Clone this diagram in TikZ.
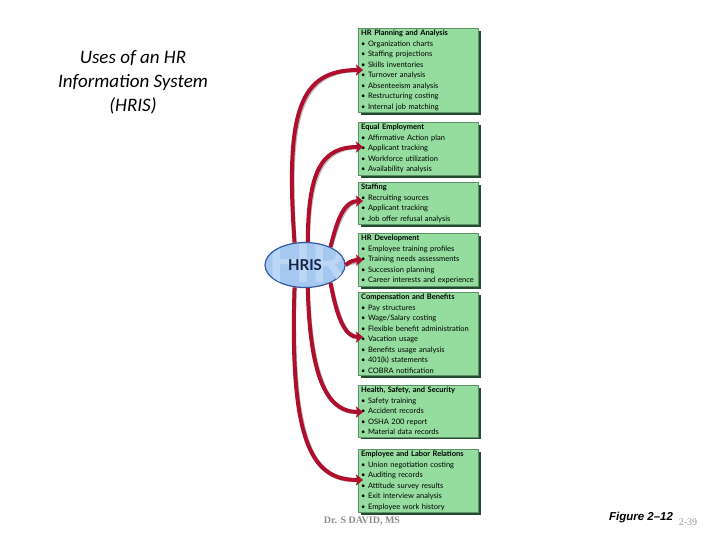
\documentclass[tikz,border=0pt]{standalone}
\usepackage{fontspec}
\usetikzlibrary{shapes.geometric,arrows.meta,shadows}
\newfontfamily\titlefont{Carlito}
\newfontfamily\boxfont{Lato}
\newfontfamily\figfont{Liberation Sans}
\newfontfamily\footfont{Liberation Serif}
\definecolor{boxgreen}{RGB}{148,221,158}
\definecolor{boxedge}{RGB}{95,145,105}
\definecolor{boxshade}{RGB}{35,75,45}
\definecolor{hrred}{RGB}{175,15,45}
\definecolor{hrisfill}{RGB}{165,200,240}
\definecolor{hrisedge}{RGB}{50,90,160}
\definecolor{hrisink}{RGB}{20,35,70}
\definecolor{hrismark}{RGB}{188,214,246}
\tikzset{
  listbox/.style={anchor=north west, text width=114pt, inner xsep=3pt, inner ysep=2pt,
    align=left, fill=boxgreen, draw=boxedge, line width=.4pt,
    font=\boxfont\fontsize{7.5}{10.5}\selectfont,
    drop shadow={shadow xshift=2.5pt, shadow yshift=-2.5pt, fill=boxshade, opacity=1}},
  hrarrow/.style={draw=hrred, line width=4pt, -{Stealth[length=7pt, width=11pt, inset=1.5pt]}},
  arrowshadow/.style={draw=black!60, opacity=.45, line width=4pt, xshift=1.5pt, yshift=-1.5pt,
    -{Stealth[length=7pt, width=11pt, inset=1.5pt]}}
}
\newcommand{\hrcurve}[4]{%
  \draw[arrowshadow] (#1) .. controls #2 and #3 .. (#4);
  \draw[hrarrow] (#1) .. controls #2 and #3 .. (#4);}
\begin{document}
\begin{tikzpicture}[x=1pt, y=-1pt]
	\useasboundingbox (0,0) rectangle (728,546);
	% Titel links
	\node[font=\titlefont\itshape\fontsize{19}{24}\selectfont, align=center] (title) at (133,82)
		{Uses of an HR\\Information System\\(HRIS)};
	
	% Kaesten rechts
	\node[listbox] (plan) at (358,28) {\textbf{HR Planning and Analysis}\\
		\textbullet\ Organization charts\\ \textbullet\ Staffing projections\\
		\textbullet\ Skills inventories\\ \textbullet\ Turnover analysis\\
		\textbullet\ Absenteeism analysis\\ \textbullet\ Restructuring costing\\
		\textbullet\ Internal job matching};
	\node[listbox] (equal) at (358,122) {\textbf{Equal Employment}\\
		\textbullet\ Affirmative Action plan\\ \textbullet\ Applicant tracking\\
		\textbullet\ Workforce utilization\\ \textbullet\ Availability analysis};
	\node[listbox] (staff) at (358,182) {\textbf{Staffing}\\
		\textbullet\ Recruiting sources\\ \textbullet\ Applicant tracking\\
		\textbullet\ Job offer refusal analysis};
	\node[listbox] (develop) at (358,233) {\textbf{HR Development}\\
		\textbullet\ Employee training profiles\\ \textbullet\ Training needs assessments\\
		\textbullet\ Succession planning\\ \mbox{\textbullet\ Career interests and experience}};
	\node[listbox] (comp) at (358,292) {\textbf{Compensation and Benefits}\\
		\textbullet\ Pay structures\\ \textbullet\ Wage/Salary costing\\
		\textbullet\ Flexible benefit administration\\ \textbullet\ Vacation usage\\
		\textbullet\ Benefits usage analysis\\ \textbullet\ 401(k) statements\\
		\textbullet\ COBRA notification};
	\node[listbox] (safety) at (358,385) {\textbf{Health, Safety, and Security}\\
		\textbullet\ Safety training\\ \textbullet\ Accident records\\
		\textbullet\ OSHA 200 report\\ \textbullet\ Material data records};
	\node[listbox] (labor) at (358,449) {\textbf{Employee and Labor Relations}\\
		\textbullet\ Union negotiation costing\\ \textbullet\ Auditing records\\
		\textbullet\ Attitude survey results\\ \textbullet\ Exit interview analysis\\
		\textbullet\ Employee work history};
	
	% HRIS Ellipse
	\node[ellipse, minimum width=80pt, minimum height=45pt, inner sep=0pt,
		fill=hrisfill, draw=hrisedge, line width=1.2pt] (hris) at (305,265) {};
	\begin{scope}
		\clip (hris.center) ellipse (39pt and 21.5pt);
		\node[text=hrismark, font=\boxfont\bfseries\fontsize{56}{56}\selectfont] (hrmark) at (308,262) {HR};
	\end{scope}
	\node[text=hrisink, font=\boxfont\bfseries\fontsize{15}{15}\selectfont] (hrislabel) at (hris.center) {HRIS};
	
	% Pfeilspitzen
	\coordinate (a1) at (363,70);
	\coordinate (a2) at (363,147);
	\coordinate (a3) at (363,201);
	\coordinate (a4) at (363,260);
	\coordinate (a5) at (363,337);
	\coordinate (a6) at (363,412);
	\coordinate (a7) at (363,480);
	
	% Pfeile
	\hrcurve{hris.115}{(285,110)}{(300,70)}{a1}
	\hrcurve{hris.83}{(308,170)}{(322,147)}{a2}
	\hrcurve{hris.35}{(337,220)}{(344,201)}{a3}
	\hrcurve{hris.east}{(350,261)}{(355,260)}{a4}
	\hrcurve{hris.-35}{(337,318)}{(345,337)}{a5}
	\hrcurve{hris.-83}{(310,385)}{(330,412)}{a6}
	\hrcurve{hris.-115}{(289,450)}{(315,480)}{a7}
	
	% Fusszeile
	\node[text=black!45, font=\footfont\bfseries\fontsize{10}{10}\selectfont] (author) at (362,521) {Dr. S DAVID, MS};
	\node[text=black!40, font=\footfont\fontsize{10}{10}\selectfont] (page) at (688,522) {2-39};
	\node[font=\figfont\bfseries\itshape\fontsize{11.5}{12}\selectfont] (figure) at (641,518) {Figure 2–12};
\end{tikzpicture}
\end{document}
